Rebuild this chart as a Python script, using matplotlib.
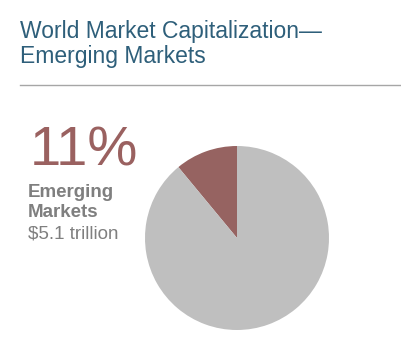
import matplotlib
matplotlib.use("Agg")
import matplotlib.pyplot as plt

labels = ["Emerging Markets", "Developed Markets"]
shares = [11, 89]
colors = ["#966361", "#bfbfbf"]
title = "World Market Capitalization—\nEmerging Markets"
big_label = "11%"
sub_bold = "Emerging\nMarkets"
sub_value = "$5.1 trillion"

W, H = 401, 356
fig = plt.figure(figsize=(W/100, H/100), dpi=100)
plt.rcParams['font.family'] = ['Liberation Sans', 'DejaVu Sans']

def fx(x): return x / W
def fy(y): return 1 - y / H

fig.text(fx(20), fy(38), "World Market Capitalization—", fontsize=16.5, color="#2e5f7a", va="baseline")
fig.text(fx(20), fy(63), "Emerging Markets", fontsize=16.5, color="#2e5f7a", va="baseline")
fig.add_artist(plt.Line2D([fx(20), 1], [fy(85), fy(85)], color="#a6a6a6", lw=1, transform=fig.transFigure))

fig.text(fx(30), fy(165), big_label, fontsize=40.5, color="#9a6160", va="baseline")
fig.text(fx(28), fy(197), "Emerging", fontsize=13.5, color="#7f7f7f", weight="bold", va="baseline")
fig.text(fx(28), fy(217), "Markets", fontsize=13.5, color="#7f7f7f", weight="bold", va="baseline")
fig.text(fx(28), fy(238), sub_value, fontsize=13.5, color="#7f7f7f", va="baseline")

cx, cy, r = 237, 238, 92
ax = fig.add_axes([fx(cx - r), fy(cy + r), 2*r/W, 2*r/H])
ax.pie(shares, colors=colors, startangle=90, counterclock=True, radius=1,
       wedgeprops=dict(linewidth=0))
ax.set_xlim(-1, 1); ax.set_ylim(-1, 1)
ax.set_aspect('auto')
ax.axis('off')

fig.savefig("out.png", dpi=100)
